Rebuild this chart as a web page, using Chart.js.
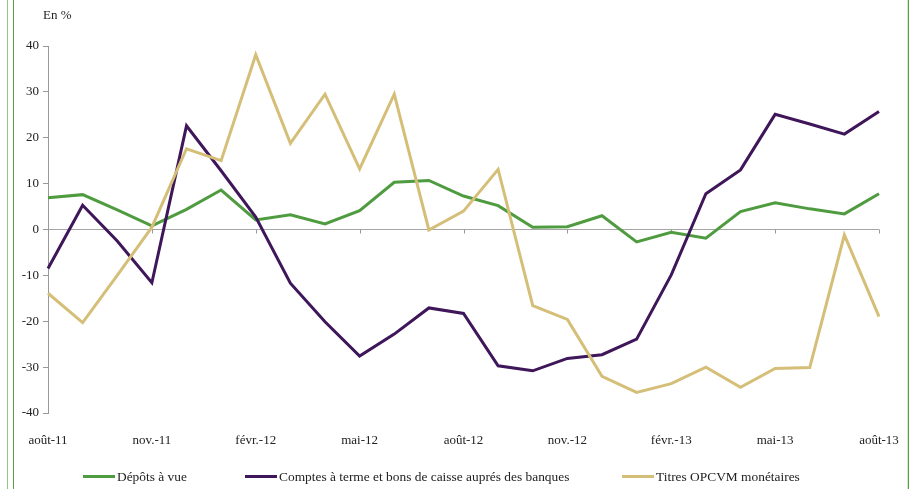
<!DOCTYPE html>
<html>
<head>
<meta charset="utf-8">
<script src="https://cdn.jsdelivr.net/npm/chart.js@4"></script>
<style>
    html, body { margin: 0; padding: 0; background: #fff; }
    #wrap { position: relative; width: 919px; height: 489px; overflow: hidden; }
    .frame { position: absolute; top: 0; bottom: 0; width: 1px; }
    #legend { position: absolute; left: 0; top: 468px; width: 919px; font: 13.4px "Liberation Serif", serif; color: #222; }
    #legend .item { position: absolute; white-space: nowrap; line-height: 18px; }
    #legend .swatch { display: inline-block; width: 32px; height: 3px; vertical-align: middle; margin-right: 2px; position: relative; top: -1px; }
</style>
</head>
<body>
<div id="wrap">
    <div class="frame" style="left:7px; background:#8fca80;"></div>
    <div class="frame" style="left:13px; background:#55a046;"></div>
    <div class="frame" style="left:907px; background:#d6ead0;"></div>
    <div class="frame" style="left:908px; background:#55a046;"></div>
    <canvas id="chart" width="919" height="489"></canvas>
    <div id="legend"></div>
</div>
<script>
// Mois (août 2011 - août 2013)
var months = ['août-11', 'sept.-11', 'oct.-11', 'nov.-11', 'déc.-11', 'janv.-12', 'févr.-12', 'mars-12', 'avr.-12',
              'mai-12', 'juin-12', 'juil.-12', 'août-12', 'sept.-12', 'oct.-12', 'nov.-12', 'déc.-12', 'janv.-13',
              'févr.-13', 'mars-13', 'avr.-13', 'mai-13', 'juin-13', 'juil.-13', 'août-13'];

// Séries (en %)
var depotsVue = [6.9, 7.6, 4.3, 0.8, 4.4, 8.6, 2.1, 3.2, 1.2, 4.1, 10.3, 10.7, 7.3,
                 5.2, 0.5, 0.6, 3.0, -2.7, -0.6, -1.9, 3.9, 5.8, 4.5, 3.4, 7.8];
var comptesTerme = [-8.5, 5.3, -2.5, -11.6, 22.6, 12.8, 2.7, -11.7, -20.1, -27.6, -22.8, -17.1, -18.3,
                    -29.7, -30.8, -28.1, -27.3, -23.9, -9.9, 7.8, 13.0, 25.1, 23.0, 20.8, 25.7];
var titresOpcvm = [-13.9, -20.3, -10.0, 0.5, 17.6, 15.0, 38.1, 18.8, 29.5, 13.2, 29.5, -0.1, 4.0,
                   13.1, -16.6, -19.6, -32.0, -35.5, -33.6, -30.0, -34.4, -30.3, -30.1, -1.2, -19.0];

var seriesNames = ['Dépôts à vue', 'Comptes à terme et bons de caisse auprés des banques', 'Titres OPCVM monétaires'];
var seriesColors = ['#4f9b3f', '#3e1659', '#d5bf78'];

var yTicks = { min: -40, max: 40, step: 10 };
var fontFamily = '"Liberation Serif", "DejaVu Serif", serif';

// Petit plugin : libellé "En %" et graduations sur l'axe du zéro
var extras = {
    id: 'extras',
    beforeDatasetsDraw: function(chart) {
        var ctx = chart.ctx;
        var x = chart.scales.x, y = chart.scales.y;
        var y0 = y.getPixelForValue(0);
        ctx.save();
        ctx.strokeStyle = '#999';
        ctx.lineWidth = 1;
        for (var i = 0; i < months.length; i += 3) {
            var px = Math.round(x.getPixelForValue(i)) + 0.5;
            ctx.beginPath();
            ctx.moveTo(px, y0);
            ctx.lineTo(px, y0 + 4);
            ctx.stroke();
        }
        ctx.restore();
    },
    afterDraw: function(chart) {
        var ctx = chart.ctx;
        ctx.save();
        ctx.font = '13px ' + fontFamily;
        ctx.fillStyle = '#222';
        ctx.textBaseline = 'middle';
        ctx.fillText('En %', 43, 16);
        ctx.restore();
    }
};

var datasets = [depotsVue, comptesTerme, titresOpcvm].map(function(values, i) {
    return {
        label: seriesNames[i],
        data: values,
        borderColor: seriesColors[i],
        backgroundColor: seriesColors[i],
        borderWidth: 3,
        pointRadius: 0,
        tension: 0,
        order: 3 - i
    };
});

var chart = new Chart(document.getElementById('chart'), {
    type: 'line',
    data: { labels: months, datasets: datasets },
    options: {
        responsive: false,
        animation: false,
        layout: { padding: { left: 0, right: 40, top: 46, bottom: 44 } },
        plugins: {
            legend: { display: false },
            tooltip: { enabled: false }
        },
        scales: {
            x: {
                grid: { display: false },
                border: { display: false },
                ticks: {
                    autoSkip: false,
                    maxRotation: 0,
                    padding: 12,
                    color: '#222',
                    font: { family: fontFamily, size: 13 },
                    callback: function(val, index) {
                        return index % 3 === 0 ? this.getLabelForValue(val) : null;
                    }
                },
                afterFit: function(scale) { scale.height = 32; }
            },
            y: {
                min: yTicks.min,
                max: yTicks.max,
                ticks: {
                    stepSize: yTicks.step,
                    padding: 4,
                    color: '#222',
                    font: { family: fontFamily, size: 13 }
                },
                grid: {
                    color: function(c) { return c.tick && c.tick.value === 0 ? '#a6a6a6' : 'rgba(0,0,0,0)'; },
                    tickColor: '#999',
                    tickLength: 5,
                    lineWidth: 1
                },
                border: { color: '#999', width: 1 },
                afterFit: function(scale) { scale.width = 48; }
            }
        }
    },
    plugins: [extras]
});

// Légende HTML construite à partir des séries
var legendPos = [83, 245, 622];
var legendEl = document.getElementById('legend');
chart.data.datasets.forEach(function(ds, i) {
    var item = document.createElement('span');
    item.className = 'item';
    item.style.left = legendPos[i] + 'px';
    var sw = document.createElement('span');
    sw.className = 'swatch';
    sw.style.background = ds.borderColor;
    item.appendChild(sw);
    item.appendChild(document.createTextNode(ds.label));
    legendEl.appendChild(item);
});
</script>
</body>
</html>
